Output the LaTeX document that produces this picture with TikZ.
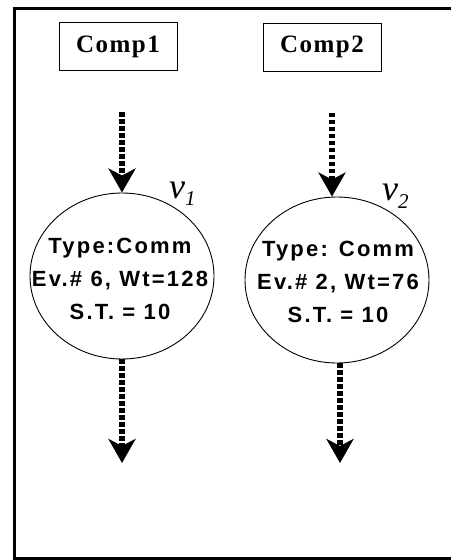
\documentclass[tikz,border=0pt]{standalone}
\usepackage{fontspec}
\setmainfont{Liberation Serif}
\newfontfamily\evfont[LetterSpace=10]{Liberation Sans}
\newfontfamily\compfont[LetterSpace=6]{Liberation Serif}
\usepackage{tikz}
\usetikzlibrary{arrows.meta, positioning, shapes.geometric, calc}

\begin{document}
\begin{tikzpicture}[
  x=1pt, y=-1pt,
  comp/.style={rectangle, draw, line width=1pt, minimum width=118pt,
    minimum height=48pt, inner sep=0pt, font=\compfont\bfseries\fontsize{25}{25}\selectfont},
  event/.style={ellipse, draw, line width=0.9pt, minimum width=184pt,
    minimum height=166pt, inner sep=0pt},
  evtext/.style={align=center, inner sep=0pt,
    font=\evfont\bfseries\fontsize{22}{33}\selectfont},
  vlabel/.style={anchor=base west, inner sep=0pt, font=\itshape\fontsize{36}{36}\selectfont},
  flow/.style={line width=6pt, dash pattern=on 4.5pt off 2.5pt,
    -{Stealth[length=24pt, width=27pt, inset=7pt]}},
]
  \useasboundingbox (0,0) rectangle (451,560);
  % open frame (no right edge)
  \draw[line width=3pt] (451,8.5) -- (14.5,8.5) -- (14.5,558.5) -- (451,558.5);

  \node[comp] (comp1) at (118,46.5) {Comp1};
  \node[comp] (comp2) at (322,47) {Comp2};

  \node[event] (v1) at (122,276) {};
  \node[event] (v2) at (337,280) {};
  \node[evtext] (t1) at (120,279) {Type:Comm\\Ev.\# 6, Wt=128\\S.T. = 10};
  \node[evtext] (t2) at (338,282) {Type: Comm\\Ev.\# 2, Wt=76\\S.T. = 10};

  \node[vlabel] (lab1) at (169,198) {v\raisebox{-7pt}{\fontsize{21}{21}\selectfont 1}};
  \node[vlabel] (lab2) at (382,200) {v\raisebox{-8pt}{\fontsize{21}{21}\selectfont 2}};

  \coordinate (out1) at (v1.south |- 0,463);
  \coordinate (out2) at (340,463);

  \draw[flow, shorten <=41pt] (comp1.south -| v1.north) -- (v1.north);
  \draw[flow, shorten <=41pt] (comp2.south -| 332,0) -- (v2.north -| 332,0);
  \draw[flow] (v1.south) -- (out1);
  \draw[flow] (v2.south -| out2) -- (out2);
\end{tikzpicture}
\end{document}
